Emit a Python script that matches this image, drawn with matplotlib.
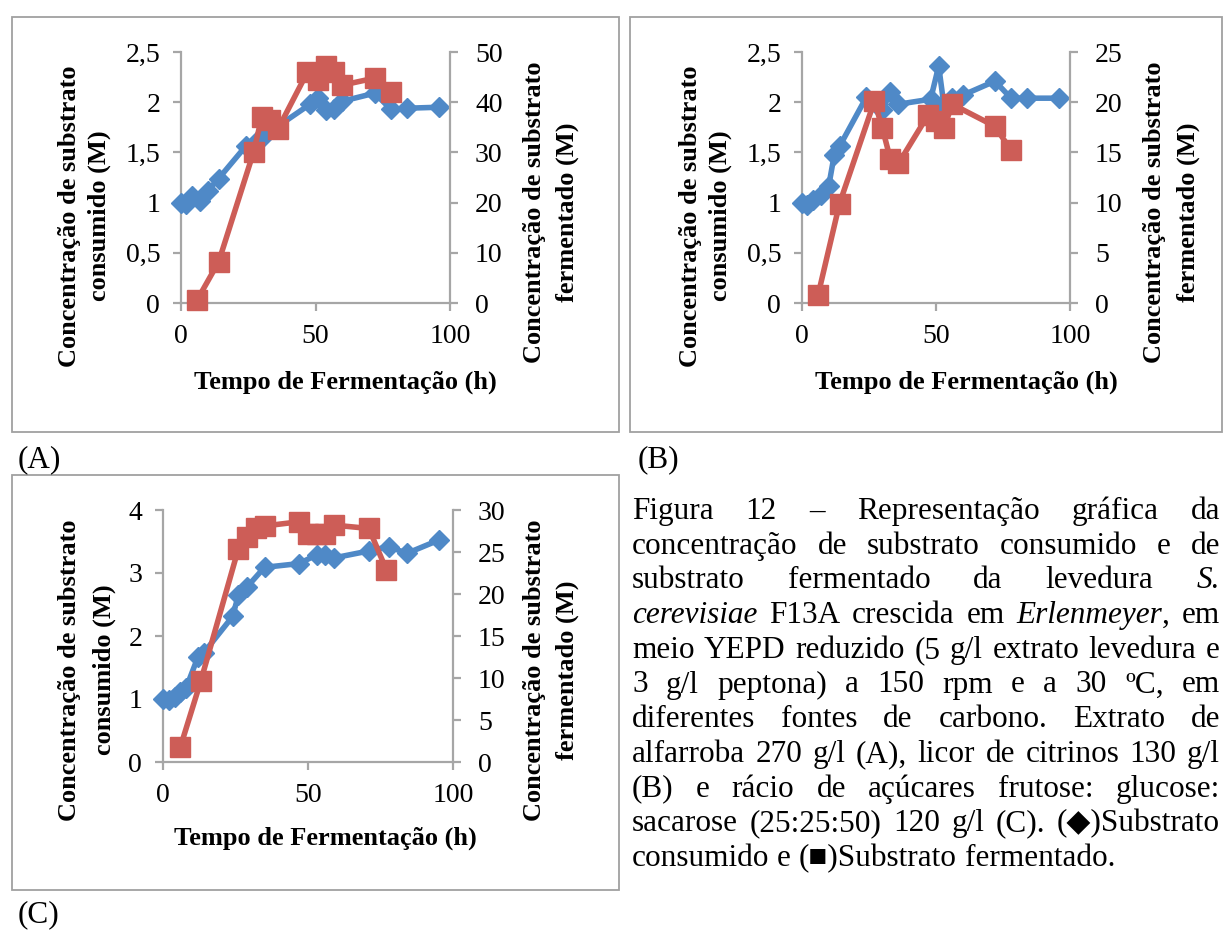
import matplotlib.pyplot as plt
from matplotlib.patches import Rectangle
from matplotlib.ticker import FuncFormatter, MultipleLocator

plt.rcParams['font.family'] = ['Liberation Serif', 'DejaVu Sans']

# (A) extrato de alfarroba 270 g/l
tempo_cons_a = [0, 2, 4, 7, 10, 14, 24, 28, 31, 36, 48, 51, 54, 57, 60, 72, 78, 84, 96]
consumido_a = [1.00, 0.99, 1.07, 1.02, 1.12, 1.24, 1.56, 1.60, 1.66, 1.76,
               1.98, 2.04, 1.92, 1.93, 2.01, 2.09, 1.93, 1.94, 1.95]
tempo_ferm_a = [6, 14, 27, 30, 33, 36, 47, 51, 54, 57, 60, 72, 78]
fermentado_a = [0.6, 8.2, 30.1, 37.0, 36.4, 34.6, 46.0, 44.4, 47.3, 46.1, 43.4, 44.8, 42.1]

# (B) licor de citrinos 130 g/l
tempo_cons_b = [0, 2, 4, 7, 10, 12, 14, 24, 30, 33, 36, 48, 51, 53, 56, 60, 72, 78, 84, 96]
consumido_b = [1.00, 0.98, 1.03, 1.08, 1.17, 1.47, 1.56, 2.05, 1.92, 2.10,
               1.98, 2.03, 2.36, 1.96, 2.04, 2.07, 2.21, 2.04, 2.04, 2.04]
tempo_ferm_b = [6, 14, 27, 30, 33, 36, 47, 50, 53, 56, 72, 78]
fermentado_b = [0.8, 9.9, 20.1, 17.4, 14.3, 13.9, 18.7, 18.1, 17.4, 19.8, 17.6, 15.2]

# (C) frutose:glucose:sacarose (25:25:50) 120 g/l
tempo_cons_c = [0, 2, 4, 6, 8, 12, 14, 24, 26, 29, 35, 47, 53, 56, 59, 71, 78, 84, 95]
consumido_c = [1.00, 0.99, 1.03, 1.11, 1.18, 1.66, 1.73, 2.31, 2.65, 2.78,
               3.09, 3.15, 3.29, 3.29, 3.24, 3.35, 3.42, 3.31, 3.52]
tempo_ferm_c = [6, 13, 26, 29, 32, 35, 47, 50, 53, 56, 59, 71, 77]
fermentado_c = [1.8, 9.6, 25.4, 26.8, 27.8, 28.1, 28.6, 27.2, 27.2, 27.2, 28.2, 27.8, 22.9]

legenda = [
    "Figura 12 – Representação gráfica da",
    "concentração de substrato consumido e de",
    "substrato fermentado da levedura _S._",
    "_cerevisiae_ F13A crescida em _Erlenmeyer_, em",
    "meio YEPD reduzido (5 g/l extrato levedura e",
    "3 g/l peptona) a 150 rpm e a 30 ºC, em",
    "diferentes fontes de carbono. Extrato de",
    "alfarroba 270 g/l (A), licor de citrinos 130 g/l",
    "(B) e rácio de açúcares frutose: glucose:",
    "sacarose (25:25:50) 120 g/l (C). (◆)Substrato",
    "consumido e (■)Substrato fermentado.",
]

W, H = 1223, 932
AZUL = '#4F89C7'
VERMELHO = '#CD5D57'
CINZA = '#A6A6A6'

fig = plt.figure(figsize=(W / 100, H / 100), dpi=100)


def fx(x):
    return x / W


def fy(y):
    return 1 - y / H


def virgula(v, pos):
    return f'{v:g}'.replace('.', ',')


def moldura(l, t, r, b):
    fig.patches.append(Rectangle((fx(l), fy(b)), fx(r - l), (b - t) / H,
                                 transform=fig.transFigure, fill=False,
                                 edgecolor='#A0A0A0', lw=1.3))


def painel(caixa, t1, y1, t2, y2, lim1, passo1, lim2, passo2):
    l, t, r, b = caixa
    ax = fig.add_axes([fx(l), fy(b), fx(r - l), (b - t) / H])
    ax2 = ax.twinx()
    ax.plot(t1, y1, color=AZUL, lw=4, marker='D', ms=10, clip_on=False, zorder=3)
    ax2.plot(t2, y2, color=VERMELHO, lw=4, marker='s', ms=14.5, clip_on=False, zorder=3)
    ax.set_xlim(0, 100)
    ax.set_ylim(0, lim1)
    ax2.set_ylim(0, lim2)
    ax.xaxis.set_major_locator(MultipleLocator(50))
    ax.yaxis.set_major_locator(MultipleLocator(passo1))
    ax2.yaxis.set_major_locator(MultipleLocator(passo2))
    ax.yaxis.set_major_formatter(FuncFormatter(virgula))
    ax2.yaxis.set_major_formatter(FuncFormatter(virgula))
    for a in (ax, ax2):
        for s in a.spines.values():
            s.set_visible(False)
    for s in (ax.spines['left'], ax.spines['bottom'], ax2.spines['right']):
        s.set_visible(True)
        s.set_color(CINZA)
        s.set_linewidth(1.6)
    ax.tick_params(axis='both', direction='out', length=6, width=1.6,
                   color=CINZA, labelsize=20)
    ax.tick_params(axis='x', pad=9)
    ax.tick_params(axis='y', pad=9)
    ax2.tick_params(axis='y', direction='out', length=6, width=1.6,
                    color=CINZA, labelsize=20, pad=12)
    return ax, ax2


def titulos(xe1, xe2, ye, xd1, xd2, yd, xx, yx):
    kw = dict(fontsize=19, fontweight='bold', rotation=90, ha='center', va='center')
    fig.text(fx(xe1), fy(ye), 'Concentração de substrato', **kw)
    fig.text(fx(xe2), fy(ye), 'consumido (M)', **kw)
    fig.text(fx(xd1), fy(yd), 'Concentração de substrato', **kw)
    fig.text(fx(xd2), fy(yd), 'fermentado (M)', **kw)
    fig.text(fx(xx), fy(yx), 'Tempo de Fermentação (h)', fontsize=19,
             fontweight='bold', ha='center', va='center')


moldura(12, 17, 619, 432)
moldura(630, 17, 1222, 432)
moldura(12, 475, 619, 890)

painel((181, 52, 450, 303), tempo_cons_a, consumido_a, tempo_ferm_a, fermentado_a,
       2.5, 0.5, 50, 10)
titulos(70, 99, 216, 534, 567, 212, 345, 382)

painel((802, 52, 1070, 303), tempo_cons_b, consumido_b, tempo_ferm_b, fermentado_b,
       2.5, 0.5, 25, 5)
titulos(691, 720, 216, 1155, 1188, 212, 966, 382)

painel((163, 510, 453, 762), tempo_cons_c, consumido_c, tempo_ferm_c, fermentado_c,
       4, 1, 30, 5)
titulos(70, 104, 670, 535, 567, 670, 325, 838)

fig.text(fx(18), fy(460), '(A)', fontsize=22.5, va='center')
fig.text(fx(638), fy(460), '(B)', fontsize=22.5, va='center')
fig.text(fx(18), fy(915), '(C)', fontsize=22.5, va='center')

# legenda justificada, palavras entre _ em itálico
renderer = fig.canvas.get_renderer()
x0, x1 = 632, 1220
tam = 22.5
espaco = 0.25 * tam * 100 / 72
for i, linha in enumerate(legenda):
    base = 519 + 34.7 * i
    italico = False
    palavras = []
    for w in linha.split(' '):
        segs = []
        for k, parte in enumerate(w.split('_')):
            if k > 0:
                italico = not italico
            if parte:
                txt = fig.text(0, fy(base), parte, fontsize=tam, va='baseline',
                               fontstyle='italic' if italico else 'normal')
                segs.append((txt, txt.get_window_extent(renderer).width))
        palavras.append(segs)
    larguras = [sum(s[1] for s in p) for p in palavras]
    if i < len(legenda) - 1:
        gap = (x1 - x0 - sum(larguras)) / (len(palavras) - 1)
    else:
        gap = espaco
    x = x0
    for p, lw in zip(palavras, larguras):
        xs = x
        for txt, wd in p:
            txt.set_x(fx(xs))
            xs += wd
        x += lw + gap

fig.savefig('out.png', dpi=100)
